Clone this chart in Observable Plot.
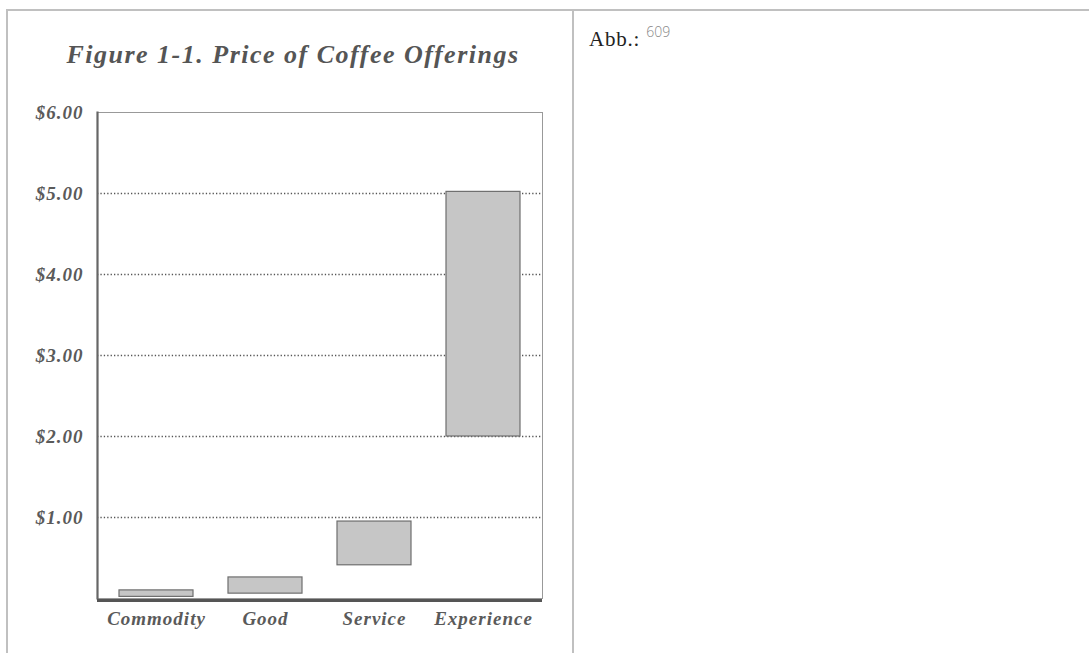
<!DOCTYPE html>
<html>
<head>
<meta charset="utf-8">
<script src="https://cdn.jsdelivr.net/npm/d3@7"></script>
<script src="https://cdn.jsdelivr.net/npm/@observablehq/plot@0.6"></script>
<style>
  html, body { margin: 0; padding: 0; background: #fff; width: 1089px; height: 653px; overflow: hidden; }
  #border { position: absolute; left: 6px; top: 9px; width: 1100px; height: 700px;
            border-left: 2px solid #c0c0c0; border-top: 2px solid #c0c0c0; box-sizing: border-box; }
  #divider { position: absolute; left: 572px; top: 9px; width: 2px; height: 700px; background: #c0c0c0; }
  #title { position: absolute; left: 0; top: 40px; width: 586px; text-align: center;
           font-family: "Liberation Serif", serif; font-style: italic; font-weight: bold;
           font-size: 26px; letter-spacing: 1.5px; color: #555; }
  #chart { position: absolute; left: 0; top: 85px; }
  #chart svg text { letter-spacing: 1px; }
  #abb { position: absolute; left: 589px; top: 27px; font-family: "Liberation Serif", serif;
         font-size: 21px; color: #222; letter-spacing: 0.8px; }
  #abb sup { font-family: "Open Sans", sans-serif; font-size: 14px; font-weight: 300; color: #888; letter-spacing: 0;
             position: relative; top: -9px; vertical-align: baseline; margin-left: 6px; }
</style>
</head>
<body>
<div id="border"></div>
<div id="divider"></div>
<div id="abb">Abb.:<sup>609</sup></div>
<div id="title">Figure 1-1. Price of Coffee Offerings</div>
<div id="chart"></div>
<script>
const categories = ["Commodity", "Good", "Service", "Experience"];
const lowPrices = [0.02, 0.06, 0.41, 2.00];
const highPrices = [0.10, 0.26, 0.95, 5.02];
const yTicks = [1, 2, 3, 4, 5, 6];
const gridValues = [1, 2, 3, 4, 5];

const data = categories.map((c, i) => ({category: c, low: lowPrices[i], high: highPrices[i]}));

const fontOpts = {fontFamily: "Liberation Serif, serif", fontStyle: "italic", fontWeight: "bold"};

const chart = Plot.plot({
  width: 574,
  height: 568,
  marginLeft: 97,
  marginRight: 32,
  marginTop: 27,
  marginBottom: 55,
  style: {background: "transparent", color: "#555", fontFamily: "Liberation Serif, serif"},
  x: {domain: categories, paddingInner: 0.318, paddingOuter: 0.182, label: null},
  y: {domain: [0, 6], label: null},
  marks: [
    Plot.gridY(gridValues, {stroke: "#555", strokeOpacity: 1, strokeWidth: 1.5, strokeDasharray: "1.3,2.1"}),
    Plot.frame({stroke: "#999", strokeWidth: 1}),
    Plot.barY(data, {x: "category", y1: "low", y2: "high", fill: "#c6c6c6", stroke: "#6e6e6e", strokeWidth: 1.2}),
    Plot.frame({anchor: "left", stroke: "#666", strokeWidth: 2.2}),
    Plot.ruleY([0], {stroke: "#555", strokeWidth: 3, dy: 2}),
    Plot.axisY(yTicks, {tickSize: 0, tickPadding: 14, fontSize: 19, fill: "#5a5a5a", ...fontOpts,
      tickFormat: d => "$" + d.toFixed(2)}),
    Plot.axisX({tickSize: 0, tickPadding: 13, fontSize: 19, fill: "#5a5a5a", ...fontOpts})
  ]
});
document.getElementById("chart").appendChild(chart);
</script>
</body>
</html>
